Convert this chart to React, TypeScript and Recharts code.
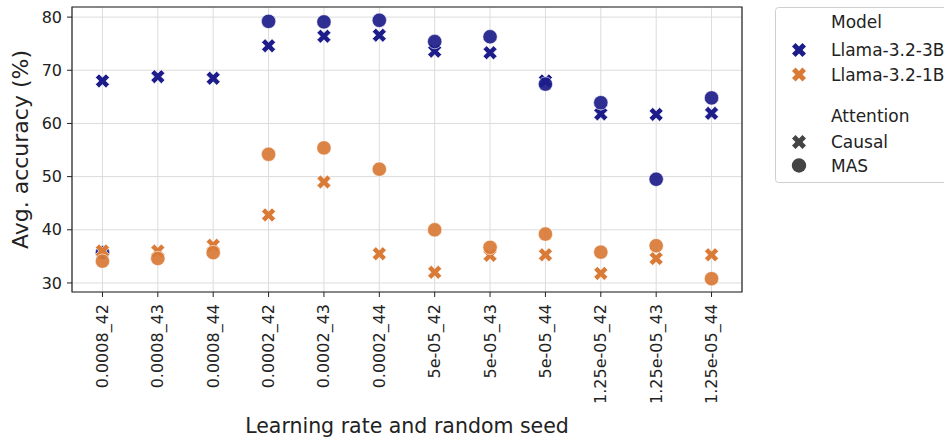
import { ScatterChart, Scatter, XAxis, YAxis, CartesianGrid, ReferenceArea } from 'recharts';

const categories = [
  '0.0008_42', '0.0008_43', '0.0008_44',
  '0.0002_42', '0.0002_43', '0.0002_44',
  '5e-05_42', '5e-05_43', '5e-05_44',
  '1.25e-05_42', '1.25e-05_43', '1.25e-05_44',
];

const llama3bCausal = [68.0, 68.8, 68.5, 74.6, 76.4, 76.6, 73.6, 73.3, 68.0, 61.8, 61.7, 61.9];
const llama3bMas = [35.7, null, null, 79.2, 79.1, 79.4, 75.4, 76.3, 67.4, 63.9, 49.5, 64.8];
const llama1bCausal = [36.0, 36.0, 37.1, 42.8, 49.0, 35.5, 32.0, 35.2, 35.3, 31.8, 34.6, 35.3];
const llama1bMas = [34.1, 34.6, 35.7, 54.2, 55.4, 51.4, 40.0, 36.7, 39.2, 35.8, 37.0, 30.8];

const yTicks = [30, 40, 50, 60, 70, 80];

const BLUE = '#1c1c8a';
const ORANGE = '#d97a36';
const FONT = '"DejaVu Sans", sans-serif';

const toPoints = (vals: (number | null)[]) =>
  vals.map((v, i) => ({ x: i, y: v })).filter(p => p.y !== null);

const L = 7.4;
const T = 2.5;
const plusPts = [
  [-T, -L], [T, -L], [T, -T], [L, -T], [L, T], [T, T],
  [T, L], [-T, L], [-T, T], [-L, T], [-L, -T], [-T, -T],
].map(p => p.join(',')).join(' ');

const xShape = (color: string) => (props: any) => (
  <polygon
    points={plusPts}
    transform={`translate(${props.cx},${props.cy}) rotate(45)`}
    fill={color}
    stroke="#fff"
    strokeWidth={0.6}
  />
);

const dotShape = (color: string) => (props: any) => (
  <circle cx={props.cx} cy={props.cy} r={7.2} fill={color} fillOpacity={0.92} stroke="#fff" strokeWidth={0.6} />
);

const XTick = (props: any) => {
  const { x, y, payload } = props;
  return (
    <text
      transform={`translate(${x},${y + 5}) rotate(-90)`}
      textAnchor="end"
      dominantBaseline="central"
      fontSize={16}
      fontFamily={FONT}
      fill="#222"
    >
      {categories[payload.value]}
    </text>
  );
};

function LegendBox() {
  const rows: { y: number; label: string; marker?: 'x' | 'o'; color?: string }[] = [
    { y: 22, label: 'Model' },
    { y: 50, label: 'Llama-3.2-3B', marker: 'x', color: BLUE },
    { y: 74.5, label: 'Llama-3.2-1B', marker: 'x', color: ORANGE },
    { y: 116, label: 'Attention' },
    { y: 142, label: 'Causal', marker: 'x', color: '#444' },
    { y: 165.5, label: 'MAS', marker: 'o', color: '#444' },
  ];
  return (
    <svg width={944} height={439} style={{ position: 'absolute', left: 0, top: 0, pointerEvents: 'none' }}>
      <rect x={775.5} y={7.5} width={200} height={175} rx={3} fill="#fff" stroke="#cfcfcf" />
      {rows.map(r => (
        <g key={r.label}>
          {r.marker === 'x' && (
            <polygon points={plusPts} transform={`translate(799,${r.y}) rotate(45)`} fill={r.color} />
          )}
          {r.marker === 'o' && <circle cx={799} cy={r.y} r={7.2} fill={r.color} />}
          <text x={831} y={r.y} dominantBaseline="central" fontSize={17} fontFamily={FONT} fill="#222">
            {r.label}
          </text>
        </g>
      ))}
    </svg>
  );
}

export default function App() {
  return (
    <div style={{ position: 'absolute', left: 0, top: 0, width: 944, height: 439, background: '#fff' }}>
      <ScatterChart width={944} height={439} margin={{ top: 7, right: 202, bottom: 0, left: 0 }}>
        <CartesianGrid stroke="#dcdcdc" strokeWidth={1} />
        <XAxis
          dataKey="x"
          type="number"
          domain={[-0.55, 11.55]}
          ticks={categories.map((_, i) => i)}
          interval={0}
          allowDataOverflow
          height={147}
          axisLine={false}
          tickSize={5}
          tickLine={{ stroke: '#222' }}
          tick={<XTick />}
          label={{
            content: (p: any) => (
              <text
                x={p.viewBox.x + p.viewBox.width / 2}
                y={p.viewBox.y + 141}
                textAnchor="middle"
                fontSize={20.5}
                fontFamily={FONT}
                fill="#222"
              >
                Learning rate and random seed
              </text>
            ),
          }}
        />
        <YAxis
          dataKey="y"
          type="number"
          domain={[28.3, 81.9]}
          ticks={yTicks}
          allowDataOverflow
          width={72}
          axisLine={false}
          tickSize={5}
          tickMargin={5}
          tickLine={{ stroke: '#222' }}
          tick={{ fontSize: 16, fontFamily: FONT, fill: '#222' }}
          label={{
            content: (p: any) => {
              const cy = p.viewBox.y + p.viewBox.height / 2;
              return (
                <text
                  transform={`translate(20,${cy}) rotate(-90)`}
                  textAnchor="middle"
                  dominantBaseline="central"
                  fontSize={22}
                  fontFamily={FONT}
                  fill="#222"
                >
                  Avg. accuracy (%)
                </text>
              );
            },
          }}
        />
        <ReferenceArea x1={-0.55} x2={11.55} y1={28.3} y2={81.9} fill="none" stroke="#222" strokeWidth={1.2} ifOverflow="visible" />
        <Scatter data={toPoints(llama3bCausal)} shape={xShape(BLUE)} isAnimationActive={false} />
        <Scatter data={toPoints(llama3bMas)} shape={dotShape(BLUE)} isAnimationActive={false} />
        <Scatter data={toPoints(llama1bCausal)} shape={xShape(ORANGE)} isAnimationActive={false} />
        <Scatter data={toPoints(llama1bMas)} shape={dotShape(ORANGE)} isAnimationActive={false} />
      </ScatterChart>
      <LegendBox />
    </div>
  );
}
